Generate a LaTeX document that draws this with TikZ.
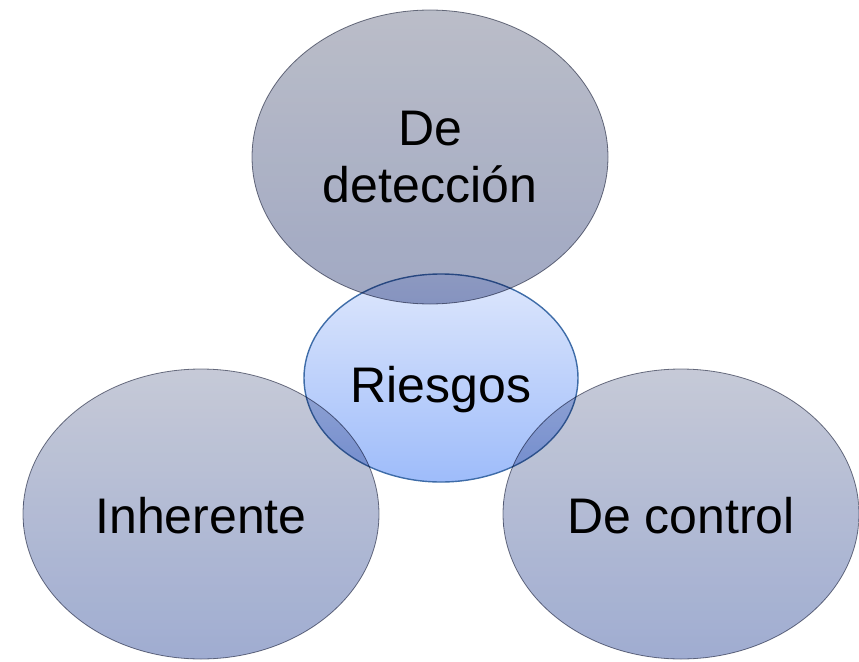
\documentclass[tikz,border=0pt]{standalone}
\usepackage{fontspec}
\setmainfont{Liberation Sans}
\usetikzlibrary{shapes.geometric}
\definecolor{riesgotop}{RGB}{222,231,252}
\definecolor{riesgobot}{RGB}{158,188,250}
\definecolor{riesgoedge}{RGB}{62,108,168}
\definecolor{outtop}{RGB}{190,194,209}
\definecolor{outbot}{RGB}{146,161,203}
\definecolor{toptop}{RGB}{177,180,192}
\definecolor{topbot}{RGB}{147,156,187}
\definecolor{outedge}{RGB}{118,122,138}
\tikzset{
  blob/.style={ellipse, inner sep=0pt, outer sep=0pt, draw=outedge, line width=0.8pt,
    top color=outtop, bottom color=outbot, fill opacity=0.88},
  center/.style={ellipse, inner sep=0pt, outer sep=0pt, draw=riesgoedge, line width=1.4pt,
    top color=riesgotop, bottom color=riesgobot},
  lbl/.style={font=\fontsize{50}{57}\selectfont, text=black, inner sep=0pt, align=center}
}
\begin{document}
\begin{tikzpicture}[x=1pt,y=-1pt]
\useasboundingbox (0,0) rectangle (859,661);
\node[center, minimum width=274pt, minimum height=208pt] (ries) at (441,378) {};
\begin{scope}[blend mode=multiply]
\node[blob, top color=toptop, bottom color=topbot, minimum width=356pt, minimum height=294pt] (det) at (430,157) {};
\node[blob, minimum width=356pt, minimum height=290pt] (inh) at (201,514) {};
\node[blob, minimum width=356pt, minimum height=290pt] (ctl) at (681,514) {};
\end{scope}
\node[lbl] (tdet) at (det.center) {De\\detección};
\node[lbl, anchor=base] (tries) at (441,402) {Riesgos};
\node[lbl, anchor=base] (tinh) at (201,533) {Inherente};
\node[lbl, anchor=base] (tctl) at (681,533) {De control};
\end{tikzpicture}
\end{document}
